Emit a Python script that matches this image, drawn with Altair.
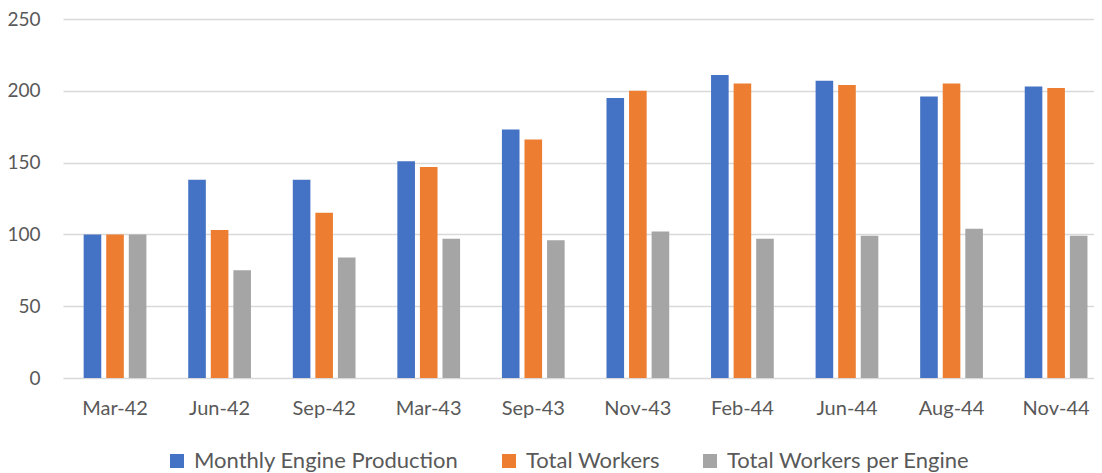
import altair as alt
import pandas as pd

categories = ["Mar-42", "Jun-42", "Sep-42", "Mar-43", "Sep-43", "Nov-43", "Feb-44", "Jun-44", "Aug-44", "Nov-44"]
series = ["Monthly Engine Production", "Total Workers", "Total Workers per Engine"]
engine_production = [100, 138, 138, 151, 173, 195, 211, 207, 196, 203]
total_workers = [100, 103, 115, 147, 166, 200, 205, 204, 205, 202]
workers_per_engine = [100, 75, 84, 97, 96, 102, 97, 99, 104, 99]
colors = ["#4472C4", "#ED7D31", "#A5A5A5"]

rows = []
for vals, s in zip([engine_production, total_workers, workers_per_engine], series):
    for c, v in zip(categories, vals):
        rows.append({"Period": c, "Series": s, "Value": v})
df = pd.DataFrame(rows)

FONT = "Lato"
TXT = "#595959"

chart = alt.Chart(df).mark_bar().encode(
    x=alt.X("Period:N", sort=categories, title=None,
            scale=alt.Scale(paddingInner=0.4, paddingOuter=0.13, align=0.76),
            axis=alt.Axis(labelAngle=0, ticks=False, domain=False, labelPadding=20,
                          labelFontSize=20, labelColor=TXT, labelFont=FONT)),
    xOffset=alt.XOffset("Series:N", sort=series,
                        scale=alt.Scale(paddingInner=0.22, paddingOuter=0)),
    y=alt.Y("Value:Q", title=None,
            scale=alt.Scale(domain=[0, 250], nice=False),
            axis=alt.Axis(values=[0, 50, 100, 150, 200, 250], ticks=False, domain=False,
                          labelPadding=23, labelFontSize=19, labelColor=TXT, labelFont=FONT,
                          gridColor="#D9D9D9", gridWidth=1.3)),
    color=alt.Color("Series:N", sort=series,
                    scale=alt.Scale(domain=series, range=colors),
                    legend=alt.Legend(title=None, orient="none", direction="horizontal",
                                      legendX=103, legendY=431,
                                      symbolType="square", symbolSize=196, symbolStrokeWidth=0,
                                      labelFontSize=22, labelColor=TXT, labelFont=FONT,
                                      labelLimit=0, labelOffset=6, columnPadding=39)),
).properties(
    width=1031, height=359,
    autosize=alt.AutoSizeParams(type="none"),
    padding={"left": 55, "top": 11, "right": 0, "bottom": 120},
).configure_view(stroke=None)

chart.save("out.html", embed_options={"renderer": "svg", "actions": False})
